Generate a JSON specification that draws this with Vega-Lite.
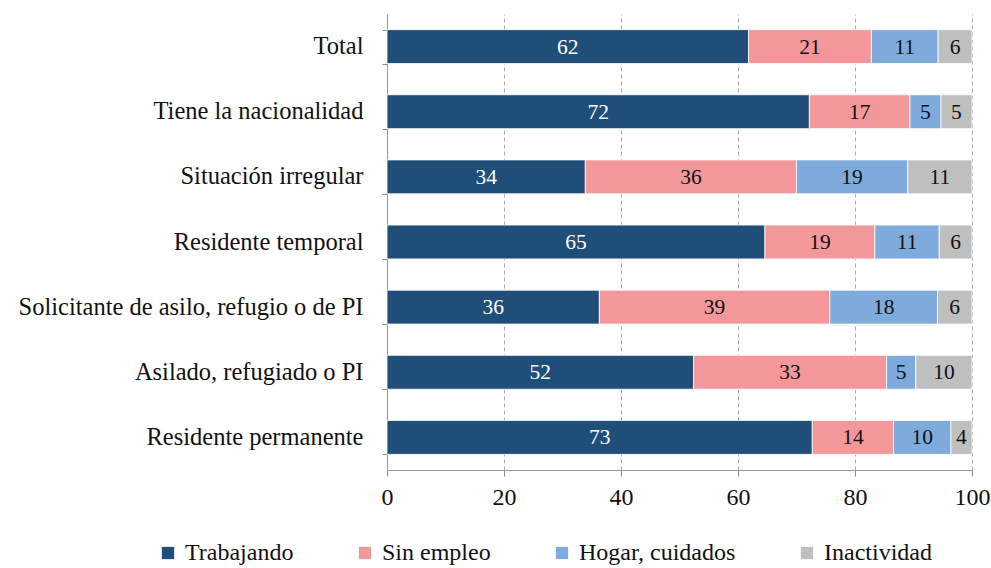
{
  "$schema": "https://vega.github.io/schema/vega-lite/v6.json",
  "width": 585,
  "height": 456,
  "autosize": {"type": "none"},
  "padding": {"left": 387, "top": 14, "right": 19, "bottom": 98},
  "background": "white",
  "config": {
    "font": "Liberation Serif",
    "view": {"stroke": null},
    "axis": {"labelFont": "Liberation Serif", "labelColor": "#111111"},
    "legend": {"labelFont": "Liberation Serif"}
  },
  "data": {
    "values": [
      {"grupo": "Total", "situacion": "Trabajando", "orden": 1, "valor": 61.8},
      {"grupo": "Total", "situacion": "Sin empleo", "orden": 2, "valor": 21.0},
      {"grupo": "Total", "situacion": "Hogar, cuidados", "orden": 3, "valor": 11.4},
      {"grupo": "Total", "situacion": "Inactividad", "orden": 4, "valor": 5.8},
      {"grupo": "Tiene la nacionalidad", "situacion": "Trabajando", "orden": 1, "valor": 72.2},
      {"grupo": "Tiene la nacionalidad", "situacion": "Sin empleo", "orden": 2, "valor": 17.2},
      {"grupo": "Tiene la nacionalidad", "situacion": "Hogar, cuidados", "orden": 3, "valor": 5.3},
      {"grupo": "Tiene la nacionalidad", "situacion": "Inactividad", "orden": 4, "valor": 5.3},
      {"grupo": "Situación irregular", "situacion": "Trabajando", "orden": 1, "valor": 33.9},
      {"grupo": "Situación irregular", "situacion": "Sin empleo", "orden": 2, "valor": 36.1},
      {"grupo": "Situación irregular", "situacion": "Hogar, cuidados", "orden": 3, "valor": 19.0},
      {"grupo": "Situación irregular", "situacion": "Inactividad", "orden": 4, "valor": 11.0},
      {"grupo": "Residente temporal", "situacion": "Trabajando", "orden": 1, "valor": 64.6},
      {"grupo": "Residente temporal", "situacion": "Sin empleo", "orden": 2, "valor": 18.8},
      {"grupo": "Residente temporal", "situacion": "Hogar, cuidados", "orden": 3, "valor": 11.0},
      {"grupo": "Residente temporal", "situacion": "Inactividad", "orden": 4, "valor": 5.6},
      {"grupo": "Solicitante de asilo, refugio o de PI", "situacion": "Trabajando", "orden": 1, "valor": 36.3},
      {"grupo": "Solicitante de asilo, refugio o de PI", "situacion": "Sin empleo", "orden": 2, "valor": 39.4},
      {"grupo": "Solicitante de asilo, refugio o de PI", "situacion": "Hogar, cuidados", "orden": 3, "valor": 18.4},
      {"grupo": "Solicitante de asilo, refugio o de PI", "situacion": "Inactividad", "orden": 4, "valor": 5.9},
      {"grupo": "Asilado, refugiado o PI", "situacion": "Trabajando", "orden": 1, "valor": 52.4},
      {"grupo": "Asilado, refugiado o PI", "situacion": "Sin empleo", "orden": 2, "valor": 33.0},
      {"grupo": "Asilado, refugiado o PI", "situacion": "Hogar, cuidados", "orden": 3, "valor": 5.0},
      {"grupo": "Asilado, refugiado o PI", "situacion": "Inactividad", "orden": 4, "valor": 9.6},
      {"grupo": "Residente permanente", "situacion": "Trabajando", "orden": 1, "valor": 72.7},
      {"grupo": "Residente permanente", "situacion": "Sin empleo", "orden": 2, "valor": 13.9},
      {"grupo": "Residente permanente", "situacion": "Hogar, cuidados", "orden": 3, "valor": 9.8},
      {"grupo": "Residente permanente", "situacion": "Inactividad", "orden": 4, "valor": 3.6}
    ]
  },
  "encoding": {
    "y": {
      "field": "grupo",
      "type": "nominal",
      "sort": ["Total", "Tiene la nacionalidad", "Situación irregular", "Residente temporal", "Solicitante de asilo, refugio o de PI", "Asilado, refugiado o PI", "Residente permanente"],
      "scale": {"paddingInner": 0.48, "paddingOuter": 0.24},
      "axis": {
        "title": null,
        "labelFontSize": 24.5,
        "labelPadding": 19,
        "labelLimit": 0,
        "tickBand": "extent",
        "tickSize": 5,
        "tickColor": "#888888",
        "domainColor": "#999999",
        "grid": false
      }
    },
    "x": {
      "field": "valor",
      "type": "quantitative",
      "stack": "zero",
      "scale": {"domain": [0, 100], "nice": false},
      "axis": {
        "title": null,
        "values": [0, 20, 40, 60, 80, 100],
        "labelFontSize": 24,
        "labelPadding": 9,
        "tickSize": 6,
        "tickColor": "#888888",
        "domainColor": "#999999",
        "grid": true,
        "gridDash": [4, 3],
        "gridColor": "#aaaaaa",
        "labelFlush": false
      }
    },
    "order": {"field": "orden", "type": "quantitative"}
  },
  "layer": [
    {
      "mark": {"type": "bar", "stroke": "white", "strokeWidth": 0.8},
      "encoding": {
        "color": {
          "field": "situacion",
          "type": "nominal",
          "scale": {
            "domain": ["Trabajando", "Sin empleo", "Hogar, cuidados", "Inactividad"],
            "range": ["#1f4e79", "#f4979a", "#7eaadc", "#bfbfbf"]
          },
          "legend": {
            "title": null,
            "orient": "none",
            "direction": "horizontal",
            "columns": 4,
            "legendX": -231,
            "legendY": 527,
            "symbolType": "square",
            "symbolSize": 150,
            "symbolStrokeWidth": 0,
            "labelFontSize": 24,
            "labelColor": "#111111",
            "labelOffset": 5,
            "labelLimit": 0,
            "columnPadding": 59
          }
        }
      }
    },
    {
      "mark": {"type": "text", "fontSize": 21.5, "baseline": "middle", "dy": 1},
      "encoding": {
        "x": {"field": "valor", "type": "quantitative", "stack": "zero", "bandPosition": 0.5},
        "text": {"field": "valor", "type": "quantitative", "format": ".0f"},
        "color": {
          "condition": {"test": "datum.situacion === 'Trabajando'", "value": "white"},
          "value": "#111111"
        }
      }
    }
  ]
}
